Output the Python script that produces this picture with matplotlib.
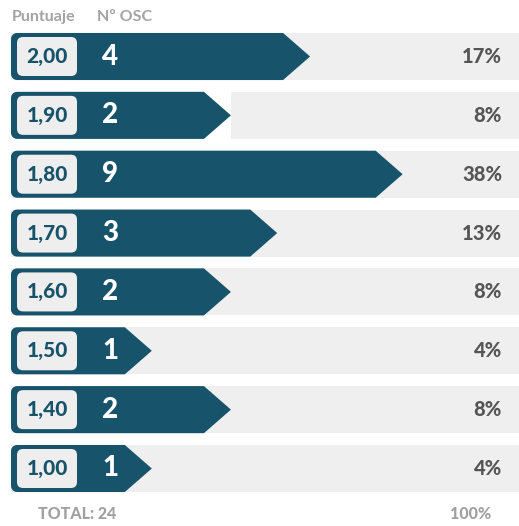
import numpy as np
import matplotlib.pyplot as plt
from matplotlib.patches import FancyBboxPatch, Polygon
from matplotlib.transforms import IdentityTransform, blended_transform_factory

scores = ['2,00', '1,90', '1,80', '1,70', '1,60', '1,50', '1,40', '1,00']
counts = [4, 2, 9, 3, 2, 1, 2, 1]
percents = ['17%', '8%', '38%', '13%', '8%', '4%', '8%', '4%']
total = 24

W, H = 519, 526
bar_color = '#17536b'
grey_bg = '#efefef'
plt.rcParams['font.family'] = ['Lato', 'DejaVu Sans']

fig = plt.figure(figsize=(W / 100, H / 100), dpi=100)
ax = fig.add_axes([11 / W, 0, (W - 11) / W, 1])
ax.set_xscale('log')
ax.set_xlim(0.369, 31.6)
ax.set_ylim(7.977, -0.96)
ax.axis('off')

ident = IdentityTransform()
row_tr = blended_transform_factory(ident, ax.transData)

half = 0.4
arrow = 27
r = 6

for i, (s, n, p) in enumerate(zip(scores, counts, percents)):
    # pixel positions from the axes scales
    x0, ytop = ax.transData.transform((ax.get_xlim()[0], i - half))
    sx, ybot = ax.transData.transform((n, i + half))
    _, yc = ax.transData.transform((n, i))
    tip = sx + arrow

    # grey track
    gleft = ax.get_xlim()[0]
    if i == 1:
        gleft = ax.transData.inverted().transform((tip, yc))[0]
    ax.barh(i, ax.get_xlim()[1] - gleft, left=gleft, height=2 * half,
            color=grey_bg, zorder=1)

    # arrow bar with rounded left corners (display coords)
    pts = [(sx, ytop), (tip, yc), (sx, ybot), (x0 + r, ybot)]
    for a in np.linspace(-np.pi / 2, -np.pi, 6):
        pts.append((x0 + r + r * np.cos(a), ybot + r + r * np.sin(a)))
    for a in np.linspace(np.pi, np.pi / 2, 6):
        pts.append((x0 + r + r * np.cos(a), ytop - r + r * np.sin(a)))
    data_pts = ax.transData.inverted().transform(pts)
    ax.add_patch(Polygon(data_pts, closed=True, facecolor=bar_color,
                         edgecolor='none', zorder=2))

    # score badge
    bw, bh = 60, 39
    ax.add_patch(FancyBboxPatch((17 + 6, yc - bh / 2 + 6), bw - 12, bh - 12,
                                boxstyle='round,pad=6', transform=ident,
                                facecolor='#eeeeee', edgecolor='none',
                                zorder=3))
    ax.text(47, i, s, transform=row_tr, ha='center', va='center',
            fontsize=15, fontweight='black', color=bar_color, zorder=4)
    ax.text(110, i, str(n), transform=row_tr, ha='center', va='center',
            fontsize=20, fontweight='black', color='white', zorder=4)
    ax.text(502, i, p, transform=row_tr, ha='right', va='center',
            fontsize=14.5, fontweight='black', color='#555555', zorder=4)

fig.text(12 / W, 1 - 17 / H, 'Puntuaje', ha='left', va='center',
         fontsize=11.5, fontweight='bold', color='#a3a3a3')
fig.text(97 / W, 1 - 17 / H, 'Nº OSC', ha='left', va='center',
         fontsize=11.5, fontweight='bold', color='#a3a3a3')
fig.text(38 / W, 1 - 514 / H, f'TOTAL: {total}', ha='left', va='center',
         fontsize=11.5, fontweight='black', color='#a0a0a0')
fig.text(491 / W, 1 - 514 / H, '100%', ha='right', va='center',
         fontsize=11.5, fontweight='black', color='#a0a0a0')

fig.savefig('out.png', dpi=100, facecolor='white')
